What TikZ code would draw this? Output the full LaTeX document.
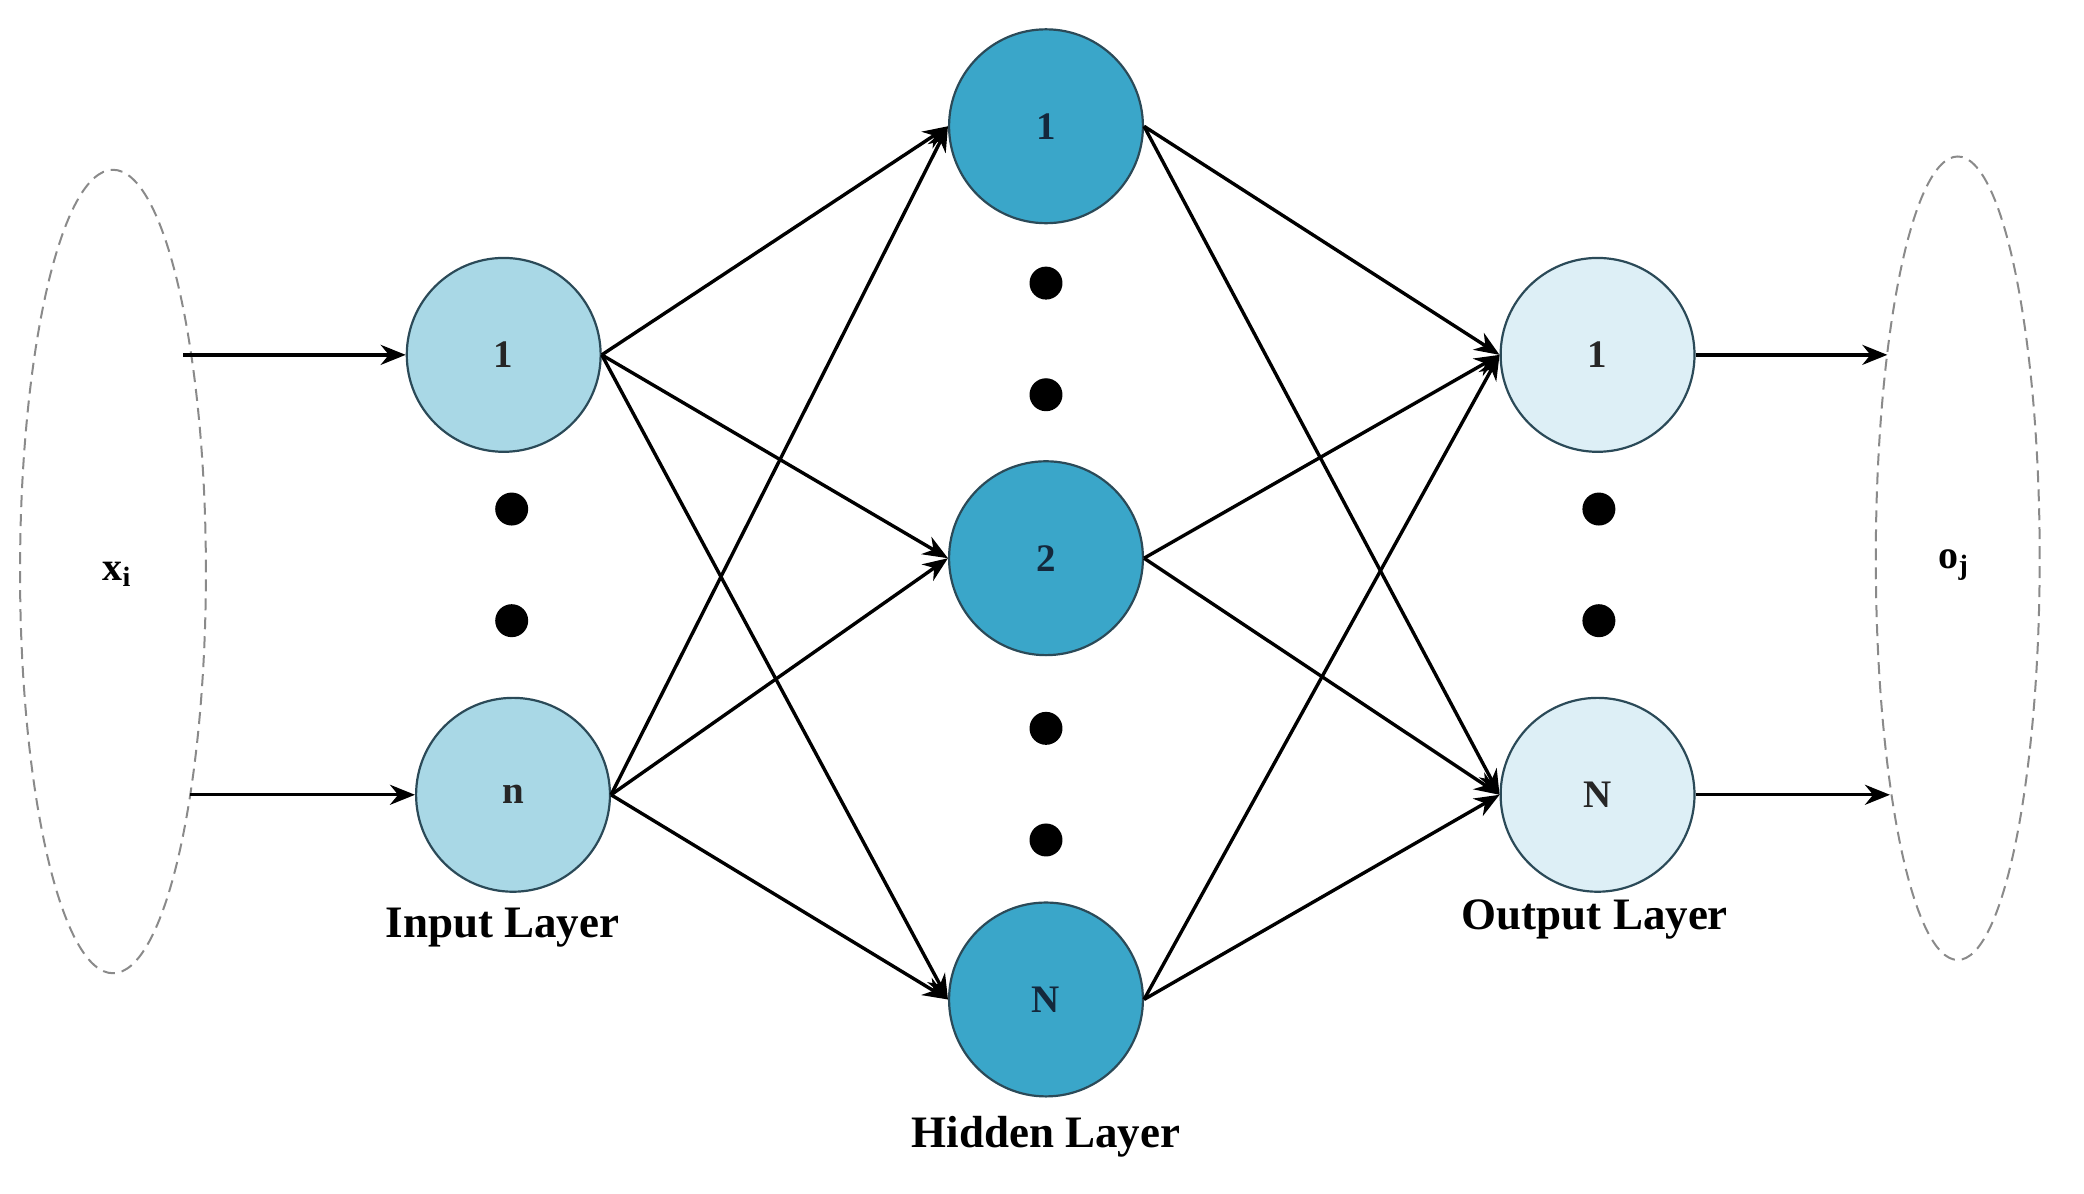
\documentclass[tikz,border=0pt]{standalone}
\usepackage{fontspec}
\setmainfont{Liberation Serif}
\usetikzlibrary{arrows.meta,shapes.geometric}
\definecolor{inC}{HTML}{A9D8E6}
\definecolor{hidC}{HTML}{3AA6C9}
\definecolor{outC}{HTML}{DDEFF6}
\definecolor{rimC}{HTML}{2B4A58}
\definecolor{ellC}{HTML}{8A8A8A}
\begin{document}
\begin{tikzpicture}[x=0.665pt,y=-0.665pt,
  neuron/.style={circle,draw=rimC,line width=1.1pt,minimum size=97pt,inner sep=0pt,
                 font=\fontsize{19.5}{22}\selectfont\bfseries,text=black!85},
  inN/.style={neuron,fill=inC},
  hidN/.style={neuron,fill=hidC,text={rgb,255:red,20;green,40;blue,60}},
  outN/.style={neuron,fill=outC},
  dotN/.style={circle,fill=black,minimum size=16.5pt,inner sep=0pt},
  conn/.style={line width=1.7pt,-{Stealth[length=12.5pt,width=10pt]}},
  grp/.style={ellipse,draw=ellC,dashed,dash pattern=on 6pt off 3.5pt,line width=1pt,inner sep=0pt},
  lbl/.style={font=\fontsize{22.5}{26}\selectfont\bfseries},
  sym/.style={font=\fontsize{20}{22}\selectfont\bfseries}]
\useasboundingbox (0,0) rectangle (1568,898);

% group ellipses
\node[grp,minimum width=93pt,minimum height=402pt] (xin) at (85,430) {};
\node[grp,minimum width=82pt,minimum height=402pt] (oout) at (1473,420) {};
\node[sym] (xl) at (88,432) {x\textsubscript{i}};
\node[sym] (ol) at (1470,425) {o\textsubscript{j}};

% neurons
\node[inN] (i1) at (379,267) {1};
\node[inN] (in) at (386,598) {n};
\node[hidN] (h1) at (787,95) {1};
\node[hidN] (h2) at (787,420) {2};
\node[hidN] (hN) at (787,752) {N};
\node[outN] (o1) at (1202,267) {1};
\node[outN] (oN) at (1202,598) {N};

% dots
\node[dotN] (di1) at (385,383) {};
\node[dotN] (di2) at (385,467) {};
\node[dotN] (dh1) at (787,213) {};
\node[dotN] (dh2) at (787,297) {};
\node[dotN] (dh3) at (787,548) {};
\node[dotN] (dh4) at (787,632) {};
\node[dotN] (do1) at (1203,383) {};
\node[dotN] (do2) at (1203,467) {};

% labels
\node[lbl] (li) at (378,698) {Input Layer};
\node[lbl] (lh) at (787,855) {Hidden Layer};
\node[lbl] (lo) at (1200,692) {Output Layer};

% input arrows
\coordinate (xa1) at (138,267);
\coordinate (xa2) at (143,598);
\coordinate (oa1) at (1420,267);
\coordinate (oa2) at (1422,598);
\draw[conn] (xa1) -- (i1.west);
\draw[conn] (xa2) -- (in.west);
\draw[conn] (o1.east) -- (oa1);
\draw[conn] (oN.east) -- (oa2);

% input -> hidden
\foreach \a in {i1,in}{
  \foreach \b in {h1,h2,hN}{
    \draw[conn] (\a.east) -- (\b.west);
  }
}
% hidden -> output
\foreach \a in {h1,h2,hN}{
  \foreach \b in {o1,oN}{
    \draw[conn] (\a.east) -- (\b.west);
  }
}
\end{tikzpicture}
\end{document}
